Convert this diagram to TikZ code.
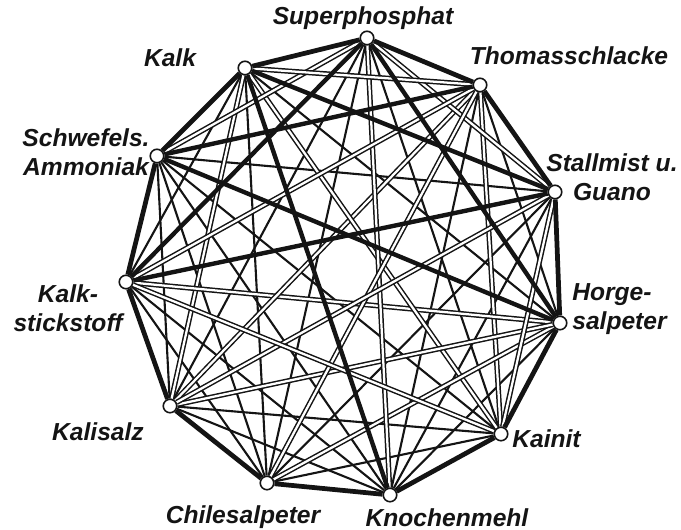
\documentclass[tikz,border=0pt]{standalone}
\usepackage{fontspec}
\setmainfont{Liberation Sans}
\usetikzlibrary{backgrounds}
\definecolor{ink}{HTML}{141414}
\definecolor{paper}{HTML}{FFFFFF}

\begin{document}
\begin{tikzpicture}[
  x=0.02cm, y=-0.02cm,
  stoff/.style={circle, draw=ink, fill=paper, line width=0.9pt, minimum size=0.27cm, inner sep=0pt},
  lab/.style={font=\fontsize{14}{16.8}\selectfont\bfseries\itshape, text=ink, inner sep=0pt, align=center},
  nie/.style={draw=ink, line width=2.5pt},
  rand/.style={draw=ink, line width=2.7pt, line join=round},
  immer/.style={draw=ink, line width=0.85pt, double=paper, double distance=1.3pt},
  kurz/.style={draw=ink, line width=1.2pt},
]
\useasboundingbox (0,0) rectangle (681,530);

% ===== fertilizer points (clockwise from the top) =====
\node[stoff] (sup) at (367,38)  {};
\node[stoff] (tho) at (480,85)  {};
\node[stoff] (sta) at (555,192) {};
\node[stoff] (nor) at (560,323) {};
\node[stoff] (kai) at (501,434) {};
\node[stoff] (kno) at (390,495) {};
\node[stoff] (chi) at (267,483) {};
\node[stoff] (ksz) at (170,406) {};
\node[stoff] (kst) at (126,282) {};
\node[stoff] (amm) at (157,156) {};
\node[stoff] (kal) at (245,68)  {};

% ===== names (base = last line) =====
\node[lab, anchor=base] (lsup) at (363,25)  {Superphosphat};
\node[lab, anchor=base] (ltho) at (569,65)  {Thomasschlacke};
\node[lab, anchor=base] (lkal) at (170,67)  {Kalk};
\node[lab, anchor=base] (lamm) at (86,176)  {Schwefels.\\Ammoniak};
\node[lab, anchor=base] (lsta) at (612,201) {Stallmist u.\\Guano};
\node[lab, anchor=base west, align=left] (lnor) at (572,330) {Horge-\\salpeter};
\node[lab, anchor=base] (lkst) at (68,332)  {Kalk-\\stickstoff};
\node[lab, anchor=base] (lksz) at (98,441)  {Kalisalz};
\node[lab, anchor=base west] (lkai) at (512,448) {Kainit};
\node[lab, anchor=base] (lchi) at (243,524) {Chilesalpeter};
\node[lab, anchor=base] (lkno) at (447,527) {Knochenmehl};

\begin{scope}[on background layer]
% ===== thin lines: only just before spreading =====
\draw[kurz] (tho)--(nor);  \draw[kurz] (nor)--(kno);  \draw[kurz] (kai)--(chi);
\draw[kurz] (kno)--(ksz);  \draw[kurz] (chi)--(kst);  \draw[kurz] (ksz)--(amm);
\draw[kurz] (kst)--(kal);  \draw[kurz] (sta)--(kno);  \draw[kurz] (kai)--(ksz);
\draw[kurz] (kno)--(kst);  \draw[kurz] (chi)--(amm);  \draw[kurz] (sup)--(kai);
\draw[kurz] (tho)--(kno);  \draw[kurz] (sta)--(chi);  \draw[kurz] (kno)--(amm);
\draw[kurz] (chi)--(kal);  \draw[kurz] (ksz)--(sup);  \draw[kurz] (amm)--(sta);
\draw[kurz] (kal)--(nor);  \draw[kurz] (kai)--(amm);  \draw[kurz] (chi)--(sup);

% ===== double lines: always mixable =====
\draw[immer] (tho)--(kai);  \draw[immer] (ksz)--(kal);  \draw[immer] (nor)--(kst);
\draw[immer] (ksz)--(tho);  \draw[immer] (kal)--(kai);  \draw[immer] (nor)--(chi);
\draw[immer] (nor)--(ksz);  \draw[immer] (sup)--(sta);  \draw[immer] (sup)--(kno);
\draw[immer] (sup)--(amm);  \draw[immer] (tho)--(chi);  \draw[immer] (tho)--(kst);
\draw[immer] (tho)--(kal);  \draw[immer] (sta)--(kai);  \draw[immer] (sta)--(ksz);
\draw[immer] (kai)--(kst);

% ===== thick lines: never mix =====
\draw[nie] (sup)--(nor);  \draw[nie] (sup)--(kst);  \draw[nie] (amm)--(tho);
\draw[nie] (kal)--(sta);  \draw[nie] (kal)--(kno);  \draw[nie] (kst)--(sta);
\draw[nie] (amm)--(nor);

% ===== outer ring =====
\draw[rand] (sup)--(tho);  \draw[rand] (tho)--(sta);  \draw[rand] (sta)--(nor);
\draw[rand] (nor)--(kai);  \draw[rand] (kai)--(kno);  \draw[rand] (kno)--(chi);
\draw[rand] (chi)--(ksz);  \draw[rand] (ksz)--(kst);  \draw[rand] (kst)--(amm);
\draw[rand] (amm)--(kal);  \draw[rand] (kal)--(sup);
\end{scope}

\end{tikzpicture}
\end{document}
